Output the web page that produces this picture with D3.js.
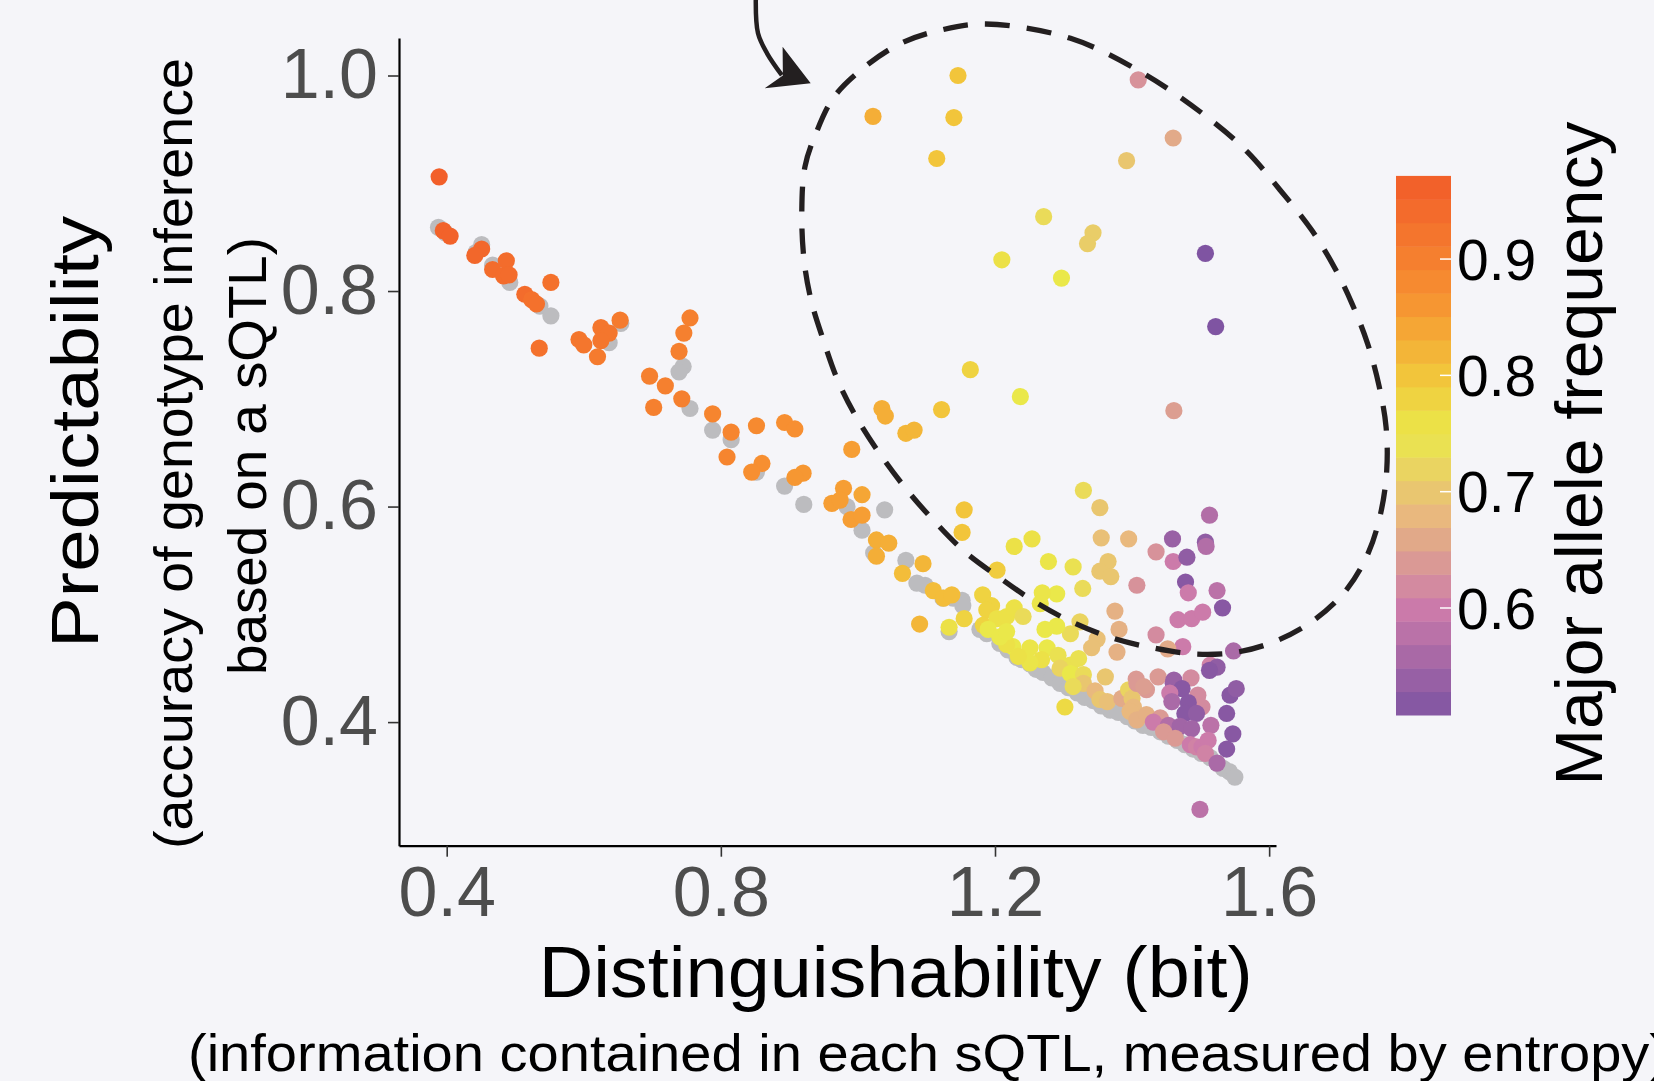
<!DOCTYPE html>
<html>
<head>
<meta charset="utf-8">
<script src="https://cdn.jsdelivr.net/npm/d3@7"></script>
<style>
  html, body { margin: 0; padding: 0; background: #f5f5f9; }
  svg { display: block; font-family: "Liberation Sans", Arial, Helvetica, sans-serif; }
</style>
</head>
<body>
<svg id="chart" width="1654" height="1081"></svg>
<script>
const WIDTH = 1654;
const HEIGHT = 1081;

// tick values
const xTicks = [0.4, 0.8, 1.2, 1.6];
const yTicks = [0.4, 0.6, 0.8, 1.0];
const mafTicks = [0.6, 0.7, 0.8, 0.9];

// baseline predictability of each sQTL (grey)
const baselinePoints = [
  [0.388, 0.859], [0.398, 0.854], [0.451, 0.843], [0.443, 0.836], [0.467, 0.824],
  [0.492, 0.808], [0.536, 0.786], [0.552, 0.777], [0.637, 0.752], [0.654, 0.770],
  [0.745, 0.730], [0.739, 0.725], [0.755, 0.691], [0.788, 0.671], [0.815, 0.662],
  [0.852, 0.632], [0.893, 0.619], [0.921, 0.602], [0.984, 0.600], [1.006, 0.578],
  [1.039, 0.597], [1.023, 0.557], [1.070, 0.550], [1.086, 0.529], [1.152, 0.513],
  [1.139, 0.515], [1.098, 0.527], [1.124, 0.515], [1.133, 0.484], [1.153, 0.508],
  [1.178, 0.486], [1.188, 0.482], [1.207, 0.473], [1.219, 0.467], [1.232, 0.460],
  [1.239, 0.458], [1.251, 0.454], [1.260, 0.449], [1.270, 0.446], [1.283, 0.441],
  [1.295, 0.436], [1.307, 0.432], [1.320, 0.427], [1.331, 0.423], [1.343, 0.420],
  [1.355, 0.415], [1.368, 0.411], [1.380, 0.409], [1.393, 0.405], [1.404, 0.401],
  [1.416, 0.397], [1.428, 0.395], [1.441, 0.391], [1.453, 0.387], [1.466, 0.383],
  [1.477, 0.379], [1.489, 0.375], [1.501, 0.371], [1.514, 0.367], [1.524, 0.362],
  [1.533, 0.357], [1.542, 0.354], [1.550, 0.349]
];

// sQTLs: [distinguishability, predictability, major allele frequency]
const sqtlPoints = [
  [1.146, 1.000, 0.80], [1.022, 0.962, 0.83], [1.140, 0.961, 0.80], [1.115, 0.923, 0.80],
  [1.409, 0.996, 0.63], [1.460, 0.942, 0.66], [1.392, 0.921, 0.70], [1.271, 0.869, 0.73],
  [1.343, 0.854, 0.71], [1.335, 0.844, 0.71], [1.210, 0.829, 0.76], [1.297, 0.812, 0.75],
  [1.507, 0.835, 0.51], [1.522, 0.767, 0.51], [1.164, 0.727, 0.78], [1.237, 0.702, 0.75],
  [1.122, 0.690, 0.80], [1.461, 0.689, 0.645], [1.035, 0.691, 0.83], [1.040, 0.684, 0.83],
  [1.070, 0.668, 0.82], [1.082, 0.671, 0.82],
  [0.389, 0.906, 0.965], [0.395, 0.856, 0.96], [0.405, 0.851, 0.96], [0.451, 0.839, 0.95],
  [0.441, 0.833, 0.95], [0.467, 0.820, 0.94], [0.487, 0.828, 0.94], [0.483, 0.814, 0.94],
  [0.491, 0.815, 0.94], [0.514, 0.797, 0.94], [0.524, 0.792, 0.93], [0.531, 0.788, 0.93],
  [0.552, 0.808, 0.93], [0.535, 0.747, 0.93], [0.593, 0.755, 0.92], [0.600, 0.750, 0.92],
  [0.625, 0.766, 0.92], [0.637, 0.761, 0.92], [0.625, 0.754, 0.92], [0.620, 0.739, 0.91],
  [0.653, 0.773, 0.91], [0.755, 0.775, 0.90], [0.746, 0.761, 0.90], [0.739, 0.744, 0.90],
  [0.696, 0.721, 0.90], [0.719, 0.712, 0.90], [0.743, 0.700, 0.90], [0.702, 0.692, 0.90],
  [0.788, 0.686, 0.89], [0.815, 0.669, 0.89], [0.809, 0.646, 0.89], [0.852, 0.675, 0.88],
  [0.893, 0.678, 0.87], [0.908, 0.672, 0.87], [0.860, 0.640, 0.87], [0.845, 0.632, 0.87],
  [0.991, 0.653, 0.85], [0.920, 0.631, 0.86], [0.908, 0.627, 0.86], [0.979, 0.617, 0.85],
  [1.006, 0.611, 0.84], [0.962, 0.603, 0.85], [0.974, 0.606, 0.85], [0.990, 0.588, 0.85],
  [1.006, 0.592, 0.85], [1.027, 0.569, 0.83], [1.045, 0.566, 0.83], [1.027, 0.554, 0.83],
  [1.095, 0.547, 0.82], [1.065, 0.538, 0.81], [1.155, 0.597, 0.80], [1.152, 0.576, 0.80],
  [1.110, 0.522, 0.81], [1.125, 0.515, 0.81], [1.137, 0.518, 0.81], [1.090, 0.491, 0.82],
  [1.133, 0.488, 0.76], [1.155, 0.496, 0.78], [1.182, 0.518, 0.78], [1.203, 0.541, 0.79],
  [1.228, 0.563, 0.76], [1.254, 0.570, 0.76], [1.278, 0.549, 0.755], [1.314, 0.544, 0.74],
  [1.329, 0.615, 0.73], [1.353, 0.599, 0.70], [1.355, 0.571, 0.69], [1.395, 0.570, 0.68],
  [1.365, 0.549, 0.70], [1.353, 0.540, 0.70], [1.369, 0.535, 0.70], [1.328, 0.524, 0.73],
  [1.290, 0.519, 0.75], [1.269, 0.520, 0.755], [1.266, 0.510, 0.755], [1.407, 0.527, 0.63],
  [1.375, 0.503, 0.67], [1.381, 0.486, 0.67], [1.378, 0.465, 0.67], [1.349, 0.477, 0.69],
  [1.341, 0.469, 0.69], [1.324, 0.493, 0.72], [1.310, 0.482, 0.73], [1.290, 0.489, 0.75],
  [1.273, 0.486, 0.75], [1.435, 0.558, 0.63], [1.459, 0.570, 0.54], [1.460, 0.549, 0.60],
  [1.480, 0.553, 0.53], [1.513, 0.592, 0.57], [1.507, 0.567, 0.53], [1.508, 0.563, 0.57],
  [1.478, 0.530, 0.52], [1.482, 0.520, 0.60], [1.524, 0.522, 0.58], [1.532, 0.506, 0.52],
  [1.467, 0.495, 0.60], [1.487, 0.496, 0.60], [1.503, 0.502, 0.60], [1.435, 0.481, 0.62],
  [1.474, 0.470, 0.60], [1.452, 0.468, 0.66], [1.548, 0.466, 0.56], [1.514, 0.453, 0.61],
  [1.524, 0.451, 0.53], [1.513, 0.448, 0.52], [1.438, 0.442, 0.64], [1.461, 0.439, 0.54],
  [1.486, 0.441, 0.62], [1.406, 0.440, 0.64], [1.361, 0.442, 0.70],
  [1.226, 0.470, 0.75], [1.251, 0.469, 0.755], [1.276, 0.469, 0.75], [1.292, 0.462, 0.74],
  [1.268, 0.458, 0.76], [1.251, 0.455, 0.755], [1.234, 0.461, 0.76], [1.217, 0.472, 0.76],
  [1.310, 0.453, 0.74], [1.322, 0.459, 0.74], [1.295, 0.450, 0.72], [1.310, 0.445, 0.75],
  [1.329, 0.444, 0.73], [1.329, 0.436, 0.70], [1.346, 0.429, 0.68], [1.353, 0.421, 0.70],
  [1.364, 0.419, 0.69], [1.314, 0.433, 0.73], [1.302, 0.414, 0.77], [1.385, 0.422, 0.66],
  [1.395, 0.430, 0.72], [1.400, 0.422, 0.70], [1.402, 0.414, 0.68], [1.397, 0.410, 0.68],
  [1.407, 0.402, 0.67], [1.421, 0.407, 0.67], [1.407, 0.436, 0.64], [1.421, 0.430, 0.64],
  [1.417, 0.433, 0.645], [1.460, 0.436, 0.54], [1.473, 0.431, 0.52], [1.455, 0.427, 0.60],
  [1.458, 0.419, 0.56], [1.496, 0.425, 0.62], [1.502, 0.414, 0.62], [1.482, 0.418, 0.52],
  [1.477, 0.408, 0.52], [1.494, 0.408, 0.53], [1.441, 0.404, 0.64], [1.431, 0.400, 0.60],
  [1.453, 0.397, 0.57], [1.470, 0.396, 0.55], [1.487, 0.394, 0.55], [1.515, 0.397, 0.58],
  [1.446, 0.391, 0.64], [1.463, 0.385, 0.64], [1.485, 0.379, 0.60], [1.494, 0.377, 0.61],
  [1.502, 0.377, 0.60], [1.511, 0.383, 0.60], [1.507, 0.371, 0.61], [1.524, 0.362, 0.56],
  [1.538, 0.375, 0.52], [1.547, 0.389, 0.52], [1.538, 0.408, 0.52], [1.543, 0.425, 0.52],
  [1.552, 0.431, 0.53], [1.499, 0.319, 0.58],
  [1.195, 0.508, 0.78], [1.188, 0.504, 0.78], [1.183, 0.490, 0.78], [1.203, 0.496, 0.76],
  [1.190, 0.486, 0.75], [1.207, 0.479, 0.75], [1.217, 0.498, 0.76], [1.228, 0.506, 0.76],
  [1.241, 0.498, 0.73], [1.217, 0.484, 0.75]
];

// colour gradient for major allele frequency
const mafStops = [0.505, 0.60, 0.68, 0.75, 0.80, 0.87, 0.975];
const mafColors = ["#7b52a2", "#cc7baa", "#e9b97e", "#eae84a", "#f2c53b", "#f78f31", "#f15a29"];
const mafRange = [0.508, 0.9715];
const mafBins = 23;

// annotation: dashed outline and arrow, in data units
const outline = [
  [1.1865, 1.0478], [1.3102, 1.0345], [1.4204, 1.0005], [1.5182, 0.9571], [1.5678, 0.9293],
  [1.6159, 0.8938], [1.6620, 0.8566], [1.6947, 0.8226], [1.7207, 0.7886], [1.7435, 0.7515],
  [1.7604, 0.7119], [1.7706, 0.6739], [1.7716, 0.6339], [1.7629, 0.5943], [1.7448, 0.5572],
  [1.7133, 0.5232], [1.6670, 0.4954], [1.6135, 0.4762], [1.5547, 0.4651], [1.4919, 0.4632],
  [1.4306, 0.4688], [1.3708, 0.4781], [1.3124, 0.4929], [1.2584, 0.5115], [1.2074, 0.5337],
  [1.1563, 0.5579], [1.1125, 0.5857], [1.0716, 0.6154], [1.0352, 0.6460], [1.0001, 0.6803],
  [0.9714, 0.7159], [0.9495, 0.7546], [0.9316, 0.7917], [0.9214, 0.8288], [0.9181, 0.8733],
  [0.9227, 0.9154], [0.9389, 0.9466], [0.9651, 0.9801], [1.0104, 1.0082], [1.0629, 1.0299],
  [1.1213, 1.0422]
];
const arrowShaft = [[0.851, 1.072], [0.8542, 1.0392], [0.8674, 1.0206], [0.889, 1.0003]];
const arrowHead = [[0.9311, 0.9927], [0.8901, 1.0267], [0.8905, 1.0000], [0.8640, 0.9881]];

const svg = d3.select("#chart");
svg.append("rect").attr("width", WIDTH).attr("height", HEIGHT).attr("fill", "#f5f5f9");

const x = d3.scaleLinear().domain([0.3304, 1.610]).range([399, 1276]);
const y = d3.scaleLinear().domain([0.2853, 1.0348]).range([845.7, 38]);
const color = d3.scaleLinear().domain(mafStops).range(mafColors).clamp(true);

// points
svg.append("g")
  .selectAll("circle")
  .data(baselinePoints)
  .enter()
  .append("circle")
  .attr("cx", (d) => x(d[0]))
  .attr("cy", (d) => y(d[1]))
  .attr("r", 8.6)
  .attr("fill", "#bcbcbf");

svg.append("g")
  .selectAll("circle")
  .data(sqtlPoints)
  .enter()
  .append("circle")
  .attr("cx", (d) => x(d[0]))
  .attr("cy", (d) => y(d[1]))
  .attr("r", 8.6)
  .attr("fill", (d) => color(d[2]));

// axes
const xAxis = d3.axisBottom(x).tickValues(xTicks).tickSize(11).tickSizeOuter(0)
  .tickPadding(10).tickFormat(d3.format(".1f"));
const yAxis = d3.axisLeft(y).tickValues(yTicks).tickSize(11).tickSizeOuter(0)
  .tickPadding(10).tickFormat(d3.format(".1f"));

const gx = svg.append("g").attr("transform", "translate(0,845.7)").call(xAxis);
const gy = svg.append("g").attr("transform", "translate(399,0)").call(yAxis);

[gx, gy].forEach((g) => {
  g.select(".domain").attr("stroke", "#000").attr("stroke-width", 2.2);
  g.selectAll(".tick line").attr("stroke", "#333").attr("stroke-width", 1.6);
  g.selectAll(".tick text")
    .attr("fill", "#4d4d4d")
    .style("font-size", "70px")
    .style("font-family", "'Liberation Sans', Arial, sans-serif");
});

// axis titles
svg.append("text")
  .attr("x", 895.7).attr("y", 996.7)
  .attr("text-anchor", "middle")
  .attr("textLength", 714).attr("lengthAdjust", "spacingAndGlyphs")
  .style("font-size", "72px")
  .text("Distinguishability (bit)");

svg.append("text")
  .attr("x", 188).attr("y", 1071)
  .attr("textLength", 1480).attr("lengthAdjust", "spacingAndGlyphs")
  .style("font-size", "52px")
  .text("(information contained in each sQTL, measured by entropy)");

svg.append("text")
  .attr("transform", "translate(98,432) rotate(-90)")
  .attr("text-anchor", "middle")
  .attr("textLength", 432).attr("lengthAdjust", "spacingAndGlyphs")
  .style("font-size", "66px")
  .text("Predictability");

svg.append("text")
  .attr("transform", "translate(192,453.6) rotate(-90)")
  .attr("text-anchor", "middle")
  .attr("textLength", 791).attr("lengthAdjust", "spacingAndGlyphs")
  .style("font-size", "54px")
  .text("(accuracy of genotype inference");

svg.append("text")
  .attr("transform", "translate(266,456) rotate(-90)")
  .attr("text-anchor", "middle")
  .attr("textLength", 438).attr("lengthAdjust", "spacingAndGlyphs")
  .style("font-size", "54px")
  .text("based on a sQTL)");

// colour bar
const cbY = d3.scaleLinear().domain(mafRange).range([715, 175.9]);
const binStep = (mafRange[1] - mafRange[0]) / mafBins;
const bins = d3.range(mafBins).map((i) => mafRange[0] + i * binStep);

svg.append("g")
  .selectAll("rect")
  .data(bins)
  .enter()
  .append("rect")
  .attr("x", 1396)
  .attr("y", (d) => cbY(d + binStep))
  .attr("width", 55)
  .attr("height", (d) => cbY(d) - cbY(d + binStep) + 0.5)
  .attr("fill", (d) => color(d + binStep / 2));

const cbTicks = svg.append("g");
cbTicks.selectAll("line")
  .data(mafTicks)
  .enter()
  .append("line")
  .attr("x1", 1440).attr("x2", 1451)
  .attr("y1", (d) => cbY(d)).attr("y2", (d) => cbY(d))
  .attr("stroke", "#fff").attr("stroke-width", 1.5);
cbTicks.selectAll("text")
  .data(mafTicks)
  .enter()
  .append("text")
  .attr("x", 1457)
  .attr("y", (d) => cbY(d))
  .attr("dy", "0.36em")
  .style("font-size", "57px")
  .text((d) => d3.format(".1f")(d));

svg.append("text")
  .attr("transform", "translate(1602,453.6) rotate(-90)")
  .attr("text-anchor", "middle")
  .attr("textLength", 664).attr("lengthAdjust", "spacingAndGlyphs")
  .style("font-size", "67px")
  .text("Major allele frequency");

// annotation
const line = d3.line().x((d) => x(d[0])).y((d) => y(d[1]));

svg.append("path")
  .attr("d", line.curve(d3.curveCatmullRomClosed.alpha(0.5))(outline))
  .attr("fill", "none")
  .attr("stroke", "#231f20")
  .attr("stroke-width", 5.3)
  .attr("stroke-dasharray", "25 17");

svg.append("path")
  .attr("d", line.curve(d3.curveCatmullRom.alpha(0.5))(arrowShaft))
  .attr("fill", "none")
  .attr("stroke", "#231f20")
  .attr("stroke-width", 4.5);

svg.append("path")
  .attr("d", line.curve(d3.curveLinearClosed)(arrowHead))
  .attr("fill", "#231f20");
</script>
</body>
</html>
